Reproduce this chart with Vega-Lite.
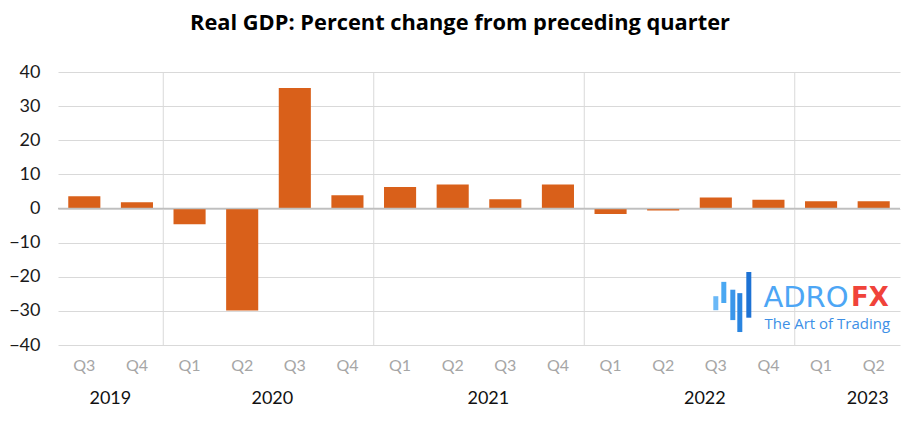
{
  "$schema": "https://vega.github.io/schema/vega-lite/v6.json",
  "width": 842,
  "height": 273,
  "autosize": {"type": "none"},
  "padding": {"left": 58, "top": 72, "right": 4, "bottom": 81},
  "background": "white",
  "title": {"text": "Real GDP: Percent change from preceding quarter", "font": "Open Sans", "fontSize": 21.8, "fontWeight": "bold", "color": "#000000", "anchor": "middle", "dx": -19, "offset": 28},
  "config": {"view": {"stroke": null}, "font": "Lato"},
  "datasets": {
    "gdp": [
      {"q": "2019 Q3", "v": 3.6},
      {"q": "2019 Q4", "v": 1.8},
      {"q": "2020 Q1", "v": -4.6},
      {"q": "2020 Q2", "v": -29.9},
      {"q": "2020 Q3", "v": 35.3},
      {"q": "2020 Q4", "v": 3.9},
      {"q": "2021 Q1", "v": 6.3},
      {"q": "2021 Q2", "v": 7.0},
      {"q": "2021 Q3", "v": 2.7},
      {"q": "2021 Q4", "v": 7.0},
      {"q": "2022 Q1", "v": -1.6},
      {"q": "2022 Q2", "v": -0.6},
      {"q": "2022 Q3", "v": 3.2},
      {"q": "2022 Q4", "v": 2.6},
      {"q": "2023 Q1", "v": 2.1},
      {"q": "2023 Q2", "v": 2.1}
    ],
    "yearlines": [
      {"q": "2020 Q1"},
      {"q": "2021 Q1"},
      {"q": "2022 Q1"},
      {"q": "2023 Q1"}
    ]
  },
  "layer": [
    {
      "data": {"name": "yearlines"},
      "mark": {"type": "rule", "color": "#d9d9d9", "strokeWidth": 1, "xOffset": -10.26},
      "encoding": {
        "x": {
          "field": "q", "type": "nominal", "bandPosition": 0,
          "scale": {"domain": ["2019 Q3","2019 Q4","2020 Q1","2020 Q2","2020 Q3","2020 Q4","2021 Q1","2021 Q2","2021 Q3","2021 Q4","2022 Q1","2022 Q2","2022 Q3","2022 Q4","2023 Q1","2023 Q2"], "paddingInner": 0.39, "paddingOuter": 0.195},
          "axis": {
            "orient": "bottom", "title": null, "domain": false, "ticks": false, "grid": false,
            "labelAngle": 0, "labelFont": "Lato", "labelFontSize": 18, "labelColor": "#111111", "labelPadding": 44,
            "labelExpr": "datum.value === '2019 Q3' ? '2019' : datum.value === '2020 Q3' ? '2020' : datum.value === '2021 Q3' ? '2021' : datum.value === '2022 Q3' ? '2022' : datum.value === '2023 Q2' ? '2023' : ''",
            "labelOffset": {"condition": [
              {"test": "datum.value === '2019 Q3'", "value": 26},
              {"test": "datum.value === '2020 Q3'", "value": -22.5},
              {"test": "datum.value === '2021 Q3'", "value": -17},
              {"test": "datum.value === '2022 Q3'", "value": -11},
              {"test": "datum.value === '2023 Q2'", "value": -6}
            ], "value": 0}
          }
        }
      }
    },
    {
      "data": {"name": "gdp"},
      "mark": {"type": "bar", "color": "#D9601A"},
      "encoding": {
        "x": {
          "field": "q", "type": "nominal",
          "scale": {"domain": ["2019 Q3","2019 Q4","2020 Q1","2020 Q2","2020 Q3","2020 Q4","2021 Q1","2021 Q2","2021 Q3","2021 Q4","2022 Q1","2022 Q2","2022 Q3","2022 Q4","2023 Q1","2023 Q2"], "paddingInner": 0.39, "paddingOuter": 0.195},
          "axis": {
            "orient": "bottom", "title": null, "domain": false, "ticks": false, "grid": false,
            "labelAngle": 0, "labelFont": "Lato", "labelFontSize": 16, "labelColor": "#a6a6a6", "labelPadding": 12,
            "labelExpr": "split(datum.value, ' ')[1]"
          }
        },
        "y": {
          "field": "v", "type": "quantitative",
          "scale": {"domain": [-40, 40], "nice": false, "zero": false},
          "axis": {
            "orient": "left", "title": null, "domain": false, "ticks": false, "grid": true, "gridColor": "#d9d9d9", "gridWidth": 1,
            "values": [-40, -30, -20, -10, 0, 10, 20, 30, 40], "labelOverlap": false,
            "labelFont": "Lato", "labelFontSize": 18, "labelColor": "#1a1a1a", "labelPadding": 18
          }
        }
      }
    },
    {
      "data": {"values": [{}]},
      "mark": {"type": "rule", "color": "#bfbfbf", "strokeWidth": 1.5},
      "encoding": {"y": {"datum": 0, "type": "quantitative", "axis": null}}
    },
    {
      "data": {"values": [{}]},
      "mark": {"type": "text", "text": "ADRO", "align": "left", "baseline": "middle", "font": "DejaVu Sans", "fontSize": 29, "color": "#4da6f5", "dx": -5},
      "encoding": {
        "x": {"datum": "2022 Q4", "type": "nominal", "axis": null},
        "y": {"datum": -26.3, "type": "quantitative", "axis": null}
      }
    },
    {
      "data": {"values": [{}]},
      "mark": {"type": "text", "text": "FX", "align": "right", "baseline": "middle", "font": "DejaVu Sans", "fontSize": 26, "fontWeight": "bold", "color": "#f0433a", "dx": 15},
      "encoding": {
        "x": {"datum": "2023 Q2", "type": "nominal", "axis": null},
        "y": {"datum": -26.3, "type": "quantitative", "axis": null}
      }
    },
    {
      "data": {"values": [{}]},
      "mark": {"type": "text", "text": "The Art of Trading", "align": "left", "baseline": "middle", "font": "Open Sans", "fontSize": 15, "color": "#3d8fe6", "dx": -4},
      "encoding": {
        "x": {"datum": "2022 Q4", "type": "nominal", "axis": null},
        "y": {"datum": -33.9, "type": "quantitative", "axis": null}
      }
    },
    {
      "data": {"values": [{}]},
      "mark": {"type": "rule", "strokeWidth": 5, "color": "#6ab8f7", "xOffset": 0},
      "encoding": {
        "x": {"datum": "2022 Q3", "type": "nominal", "axis": null},
        "y": {"datum": -25.7, "type": "quantitative", "axis": null},
        "y2": {"datum": -29.8}
      }
    },
    {
      "data": {"values": [{}]},
      "mark": {"type": "rule", "strokeWidth": 5, "color": "#4aa8f2", "xOffset": 8},
      "encoding": {
        "x": {"datum": "2022 Q3", "type": "nominal", "axis": null},
        "y": {"datum": -21.5, "type": "quantitative", "axis": null},
        "y2": {"datum": -27.7}
      }
    },
    {
      "data": {"values": [{}]},
      "mark": {"type": "rule", "strokeWidth": 5, "color": "#3a96ea", "xOffset": 17},
      "encoding": {
        "x": {"datum": "2022 Q3", "type": "nominal", "axis": null},
        "y": {"datum": -23.8, "type": "quantitative", "axis": null},
        "y2": {"datum": -32.7}
      }
    },
    {
      "data": {"values": [{}]},
      "mark": {"type": "rule", "strokeWidth": 5, "color": "#2a85e0", "xOffset": 24},
      "encoding": {
        "x": {"datum": "2022 Q3", "type": "nominal", "axis": null},
        "y": {"datum": -24.8, "type": "quantitative", "axis": null},
        "y2": {"datum": -36.2}
      }
    },
    {
      "data": {"values": [{}]},
      "mark": {"type": "rule", "strokeWidth": 5, "color": "#1d72d4", "xOffset": 33},
      "encoding": {
        "x": {"datum": "2022 Q3", "type": "nominal", "axis": null},
        "y": {"datum": -18.6, "type": "quantitative", "axis": null},
        "y2": {"datum": -32.0}
      }
    }
  ],
  "resolve": {"axis": {"x": "independent", "y": "independent"}}
}
